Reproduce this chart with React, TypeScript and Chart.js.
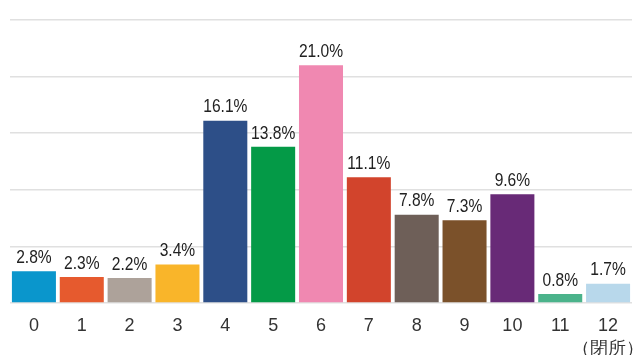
import React, { useEffect, useRef } from "react";
import { Chart, registerables } from "chart.js";

Chart.register(...registerables);

const categories: (string | string[])[] = ["0", "1", "2", "3", "4", "5", "6", "7", "8", "9", "10", "11", ["12", "（閉所）"]];
const values: number[] = [2.8, 2.3, 2.2, 3.4, 16.1, 13.8, 21.0, 11.1, 7.8, 7.3, 9.6, 0.8, 1.7];
const barColors: string[] = [
  "#0a96cc", "#e65a2e", "#ada29a", "#f9b52a", "#2d4f88", "#049a47", "#f088b1",
  "#d2442c", "#6e5f58", "#7b512a", "#682a77", "#4bb38b", "#b8d8eb",
];
const yMax = 25;
const yStep = 5;

const valueLabels = {
  id: "valueLabels",
  afterDatasetsDraw(chart: any) {
    const ctx = chart.ctx;
    const meta = chart.getDatasetMeta(0);
    const sx = 0.82;
    meta.data.forEach((bar: any, i: number) => {
      ctx.save();
      ctx.font = '19px "Liberation Sans", Arial, sans-serif';
      ctx.fillStyle = "#222222";
      ctx.textAlign = "center";
      ctx.textBaseline = "bottom";
      ctx.translate(bar.x, bar.y - 4);
      ctx.scale(sx, 1);
      ctx.fillText(values[i].toFixed(1) + "%", 0, 0);
      ctx.restore();
    });
  },
};

export default function App() {
  const ref = useRef<HTMLCanvasElement | null>(null);
  useEffect(() => {
    if (!ref.current) return;
    const chart = new Chart(ref.current, {
      type: "bar",
      data: {
        labels: categories,
        datasets: [
          {
            data: values,
            backgroundColor: barColors,
            borderWidth: 0,
            barPercentage: 0.92,
            categoryPercentage: 1,
          },
        ],
      },
      options: {
        animation: false,
        responsive: false,
        maintainAspectRatio: false,
        layout: { padding: { left: 0, right: 8, top: 20, bottom: 0 } },
        plugins: { legend: { display: false }, tooltip: { enabled: false } },
        scales: {
          x: {
            grid: { display: false },
            border: { display: false },
            ticks: {
              color: "#333333",
              font: { family: '"Liberation Sans", Arial, sans-serif', size: 18, lineHeight: 1.3 },
              padding: 3,
              maxRotation: 0,
              autoSkip: false,
            },
            afterFit(scale: any) {
              scale.height = 52;
              scale.paddingLeft = 0;
              scale.paddingRight = 0;
            },
          },
          y: {
            min: 0,
            max: yMax,
            ticks: { display: false, stepSize: yStep },
            grid: { color: "#e0e0e0", lineWidth: 1.5, drawTicks: false },
            border: { display: false },
            afterFit(scale: any) {
              scale.width = 10;
              scale.paddingTop = 0;
              scale.paddingBottom = 0;
            },
          },
        },
      },
      plugins: [valueLabels],
    });
    return () => chart.destroy();
  }, []);
  return (
    <div style={{ position: "fixed", left: 0, top: 0, width: 640, height: 355, background: "#fff" }}>
      <canvas ref={ref} width={640} height={355} />
    </div>
  );
}
